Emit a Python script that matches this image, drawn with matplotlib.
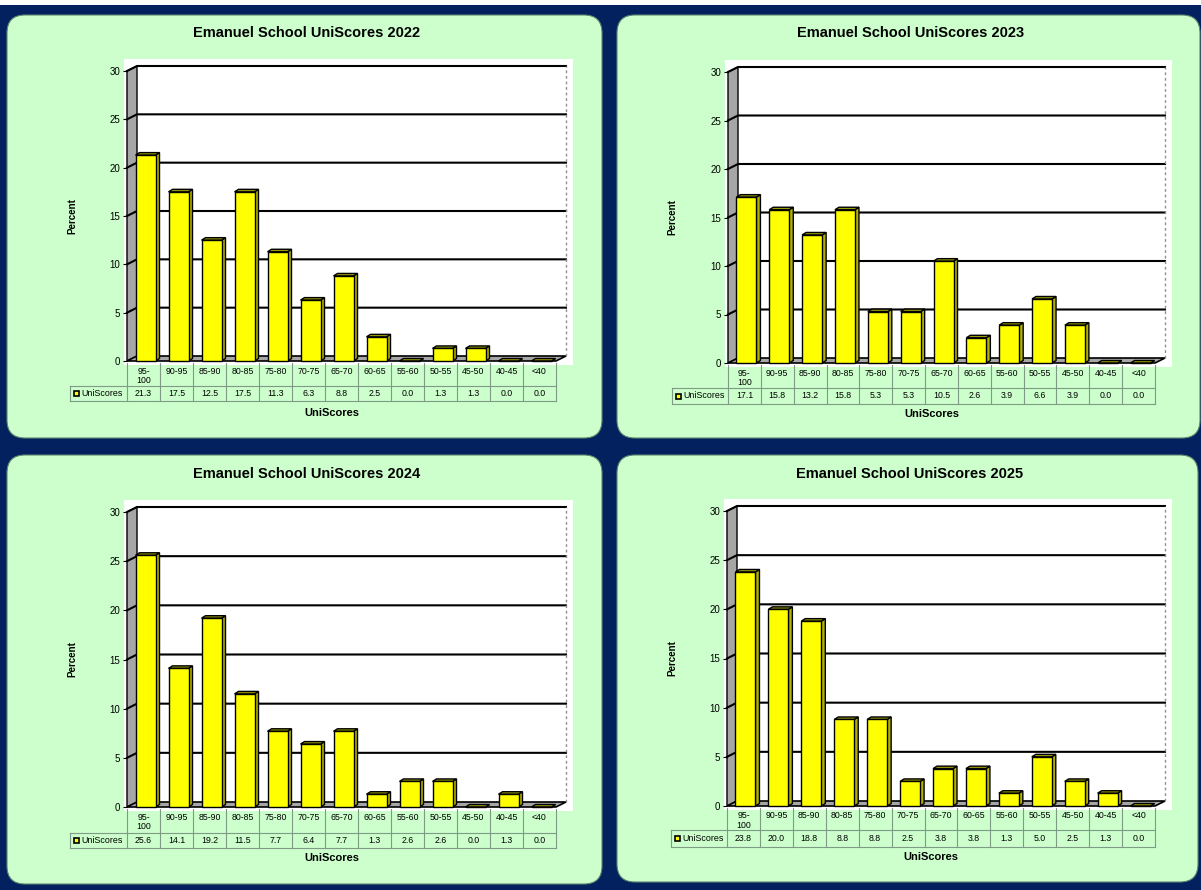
import numpy as np
import matplotlib.pyplot as plt
from matplotlib.patches import FancyBboxPatch, Rectangle, Polygon

plt.rcParams['font.family'] = ['Liberation Sans', 'DejaVu Sans']

W, H = 1201, 890

# Данные: проценты по диапазонам UniScores
categories = ['95-\n100', '90-95', '85-90', '80-85', '75-80', '70-75', '65-70',
              '60-65', '55-60', '50-55', '45-50', '40-45', '<40']
years = [2022, 2023, 2024, 2025]
scores_2022 = [21.3, 17.5, 12.5, 17.5, 11.3, 6.3, 8.8, 2.5, 0.0, 1.3, 1.3, 0.0, 0.0]
scores_2023 = [17.1, 15.8, 13.2, 15.8, 5.3, 5.3, 10.5, 2.6, 3.9, 6.6, 3.9, 0.0, 0.0]
scores_2024 = [25.6, 14.1, 19.2, 11.5, 7.7, 6.4, 7.7, 1.3, 2.6, 2.6, 0.0, 1.3, 0.0]
scores_2025 = [23.8, 20.0, 18.8, 8.8, 8.8, 2.5, 3.8, 3.8, 1.3, 5.0, 2.5, 1.3, 0.0]
all_scores = [scores_2022, scores_2023, scores_2024, scores_2025]

navy = '#03215F'
green = '#CCFFCC'
grid_col = '#7F9A85'

# Расположение панелей (в пикселях)
panels = [(7, 15, 602, 438), (617, 15, 1200, 438),
          (7, 455, 602, 884), (617, 455, 1198, 882)]
# x0, x1, y(0), y(30), левый край легенды, низ строки категорий, низ строки данных, y подписи X, x подписи Y, y заголовка
layout = [
    dict(x0=127, x1=556, yz=361, yt=71, leg=70, r1=386, r2=401, xl=413, ylx=77, ty=33),
    dict(x0=728, x1=1155, yz=363, yt=72, leg=672, r1=388, r2=404, xl=414, ylx=677, ty=33),
    dict(x0=127, x1=556, yz=807, yt=512, leg=70, r1=833, r2=848, xl=858, ylx=77, ty=474),
    dict(x0=727, x1=1155, yz=806, yt=511, leg=671, r1=830, r2=847, xl=857, ylx=677, ty=474),
]

fig = plt.figure(figsize=(W / 100, H / 100), dpi=100)
fig.patch.set_facecolor(navy)
bg = fig.add_axes([0, 0, 1, 1])
bg.set_xlim(0, W)
bg.set_ylim(H, 0)
bg.axis('off')
bg.add_patch(Rectangle((0, 0), W, 4.5, fc='white', ec='none'))

for (px0, py0, px1, py1) in panels:
    bg.add_patch(FancyBboxPatch((px0, py0), px1 - px0, py1 - py0,
                                boxstyle='round,pad=0,rounding_size=18',
                                fc=green, ec='#5F8570', lw=0.8))


def draw_chart(ax, values, g):
    n = len(values)
    ux = (g['x1'] - g['x0']) / n
    uy = (g['yz'] - g['yt']) / 30
    px = lambda p: p / ux
    py = lambda p: p / uy
    dxw, dyw = px(10), py(5)
    dxb, dyb = px(4), py(2.5)
    bw = px(20)

    ax.set_xlim(0, n)
    ax.set_ylim(0, 30)
    ax.set_facecolor('none')
    for s in ax.spines.values():
        s.set_visible(False)

    # белая область графика, стенки и пол
    ax.add_patch(Rectangle((-px(3), -py(4)), n + px(20), 30 + py(16),
                           fc='white', ec='none', zorder=0, clip_on=False))
    ax.add_patch(Polygon([(0, 0), (dxw, dyw), (dxw, 30 + dyw), (0, 30)],
                         fc='#A6A6A6', ec='black', lw=1, zorder=1, clip_on=False))
    ax.add_patch(Polygon([(0, 0), (n, 0), (n + dxw, dyw), (dxw, dyw)],
                         fc='#A6A6A6', ec='black', lw=1.2, zorder=1, clip_on=False))
    for t in range(5, 31, 5):
        ax.plot([0, dxw, n + dxw], [t, t + dyw, t + dyw], color='black',
                lw=1.5, zorder=2, clip_on=False)
    ax.plot([n + dxw] * 2, [dyw, 30 + dyw], color='#909090', lw=1,
            ls=(0, (2, 2)), zorder=2, clip_on=False)

    # столбцы с 3D-гранями
    x = np.arange(n) + 0.5 + px(2)
    ax.bar(x, values, width=bw, color='#FFFF00', edgecolor='black', lw=1,
           zorder=4, clip_on=False)
    for xi, v in zip(x, values):
        l, r = xi - bw / 2, xi + bw / 2
        ax.add_patch(Polygon([(r, 0), (r + dxb, dyb), (r + dxb, v + dyb), (r, v)],
                             fc='#B2B200', ec='black', lw=1, zorder=3, clip_on=False))
        ax.add_patch(Polygon([(l, v), (r, v), (r + dxb, v + dyb), (l + dxb, v + dyb)],
                             fc='#999900', ec='black', lw=1, zorder=3, clip_on=False))

    ax.set_xticks([])
    ax.set_yticks(range(0, 31, 5))
    ax.tick_params(axis='y', length=3, width=0.8, labelsize=7, pad=2)
    ax.set_ylabel('Percent', fontsize=7, fontweight='bold')
    ax.yaxis.set_label_coords((g['ylx'] - g['x0']) / (g['x1'] - g['x0']), 0.5)

    # таблица данных
    top = -py(2)
    r1 = -py(g['r1'] - g['yz'])
    r2 = -py(g['r2'] - g['yz'])
    leg = -px(g['x0'] - g['leg'])
    kw = dict(color=grid_col, lw=0.8, clip_on=False, zorder=1)
    ax.plot([leg, n], [r1, r1], **kw)
    ax.plot([leg, n], [r2, r2], **kw)
    ax.plot([leg, leg], [r1, r2], **kw)
    for k in range(n + 1):
        ax.plot([k, k], [top, r2], **kw)
    for i, c in enumerate(categories):
        ax.text(i + 0.5, -py(5.5), c, ha='center', va='top', fontsize=6.3,
                linespacing=1.05)
    mid = (r1 + r2) / 2
    for i, v in enumerate(values):
        ax.text(i + 0.5, mid, f'{v:.1f}', ha='center', va='center', fontsize=6.3)
    ax.add_patch(Rectangle((leg + px(4), mid - py(2.5)), px(5), py(5),
                           fc='#FFFF00', ec='black', lw=1.2, clip_on=False))
    ax.text(leg + px(11), mid, 'UniScores', ha='left', va='center', fontsize=6.4)


for (px0, py0, px1, py1), g, year, vals in zip(panels, layout, years, all_scores):
    ax = fig.add_axes([g['x0'] / W, 1 - g['yz'] / H,
                       (g['x1'] - g['x0']) / W, (g['yz'] - g['yt']) / H])
    draw_chart(ax, vals, g)
    bg.text((px0 + px1) / 2 + 2, g['ty'], f'Emanuel School UniScores {year}',
            ha='center', va='center', fontsize=10.5, fontweight='bold')
    bg.text((g['x0'] + g['x1']) / 2 - 10, g['xl'], 'UniScores',
            ha='center', va='center', fontsize=8, fontweight='bold')

fig.savefig('out.png', dpi=100, facecolor=fig.get_facecolor())
